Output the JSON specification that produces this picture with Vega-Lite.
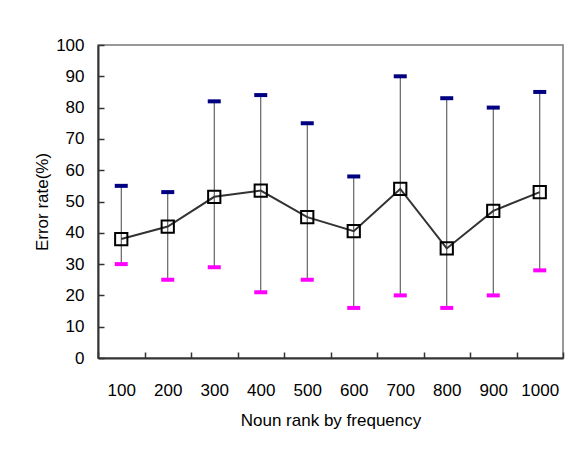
{
  "$schema": "https://vega.github.io/schema/vega-lite/v6.json",
  "width": 465,
  "height": 313,
  "autosize": {"type": "none"},
  "padding": {"left": 98, "top": 45, "right": 10, "bottom": 92},
  "background": "white",
  "config": {
    "view": {"stroke": "#777", "strokeWidth": 1.5},
    "font": "Liberation Sans",
    "axis": {"grid": false, "labelFont": "Liberation Sans", "titleFont": "Liberation Sans", "labelColor": "#000", "titleColor": "#000", "titleFontWeight": "normal", "domainColor": "#333", "domainWidth": 2, "tickColor": "#333", "tickWidth": 1.5, "labelFontSize": 17, "titleFontSize": 17}
  },
  "data": {"values": [
    {"rank": "100", "mean": 38, "upper": 55, "lower": 30},
    {"rank": "200", "mean": 42, "upper": 53, "lower": 25},
    {"rank": "300", "mean": 51.5, "upper": 82, "lower": 29},
    {"rank": "400", "mean": 53.5, "upper": 84, "lower": 21},
    {"rank": "500", "mean": 45, "upper": 75, "lower": 25},
    {"rank": "600", "mean": 40.5, "upper": 58, "lower": 16},
    {"rank": "700", "mean": 54, "upper": 90, "lower": 20},
    {"rank": "800", "mean": 35, "upper": 83, "lower": 16},
    {"rank": "900", "mean": 47, "upper": 80, "lower": 20},
    {"rank": "1000", "mean": 53, "upper": 85, "lower": 28}
  ]},
  "encoding": {
    "x": {
      "field": "rank", "type": "ordinal", "sort": null,
      "scale": {"paddingInner": 0, "paddingOuter": 0},
      "axis": {"title": "Noun rank by frequency", "labelAngle": 0, "tickBand": "extent", "tickSize": -6, "labelPadding": 30, "titlePadding": 14}
    }
  },
  "layer": [
    {
      "mark": {"type": "rule", "color": "#444", "strokeWidth": 1},
      "encoding": {
        "y": {"field": "lower", "type": "quantitative", "scale": {"domain": [0, 100]},
          "axis": {"title": "Error rate(%)", "values": [0,10,20,30,40,50,60,70,80,90,100], "labelOverlap": false, "tickSize": -6, "labelPadding": 20, "titlePadding": 4}},
        "y2": {"field": "upper"}
      }
    },
    {
      "mark": {"type": "tick", "color": "#000080", "size": 13, "thickness": 4, "opacity": 1},
      "encoding": {"y": {"field": "upper", "type": "quantitative",
          "axis": {"title": "Error rate(%)", "values": [0,10,20,30,40,50,60,70,80,90,100], "labelOverlap": false, "tickSize": -6, "labelPadding": 20, "titlePadding": 4}}}
    },
    {
      "mark": {"type": "tick", "color": "#FF00FF", "size": 13, "thickness": 4, "opacity": 1},
      "encoding": {"y": {"field": "lower", "type": "quantitative",
          "axis": {"title": "Error rate(%)", "values": [0,10,20,30,40,50,60,70,80,90,100], "labelOverlap": false, "tickSize": -6, "labelPadding": 20, "titlePadding": 4}}}
    },
    {
      "mark": {"type": "line", "color": "#333", "strokeWidth": 2},
      "encoding": {"y": {"field": "mean", "type": "quantitative",
          "axis": {"title": "Error rate(%)", "values": [0,10,20,30,40,50,60,70,80,90,100], "labelOverlap": false, "tickSize": -6, "labelPadding": 20, "titlePadding": 4}}}
    },
    {
      "mark": {"type": "point", "shape": "square", "filled": false, "color": "#000", "strokeWidth": 2, "size": 150, "opacity": 1},
      "encoding": {"y": {"field": "mean", "type": "quantitative",
          "axis": {"title": "Error rate(%)", "values": [0,10,20,30,40,50,60,70,80,90,100], "labelOverlap": false, "tickSize": -6, "labelPadding": 20, "titlePadding": 4}}}
    }
  ]
}
